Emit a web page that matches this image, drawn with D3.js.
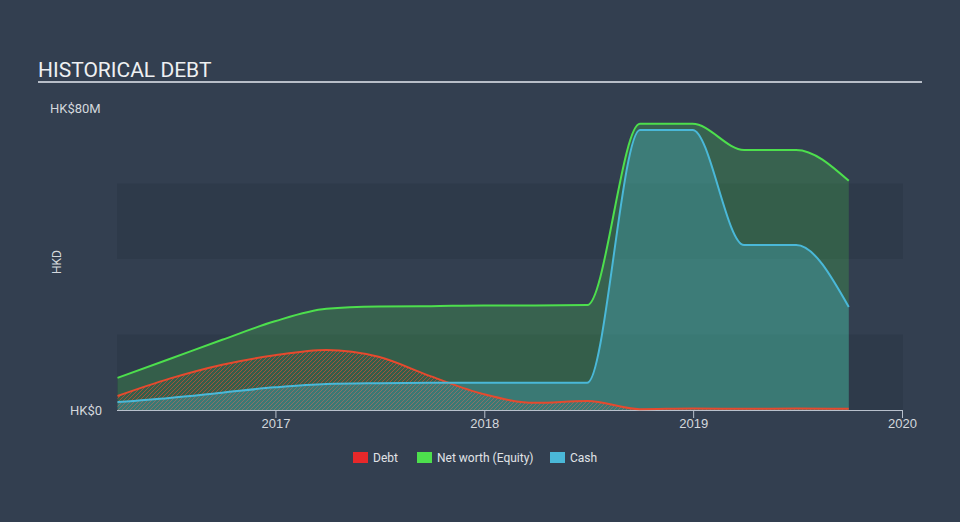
<!DOCTYPE html>
<html><head><meta charset="utf-8">
<script src="https://cdn.jsdelivr.net/npm/d3@7"></script>
<style>
html,body{margin:0;padding:0;background:#333f50;}
svg{display:block;font-family:Roboto, "Open Sans", sans-serif;}
</style></head>
<body>
<svg id="chart" width="960" height="522"></svg>
<script>
const dates = ["2016-03-31","2016-06-30","2016-09-30","2016-12-31","2017-03-31","2017-06-30","2017-09-30","2017-12-31","2018-03-31","2018-06-30","2018-09-30","2018-12-31","2019-03-31","2019-06-30","2019-09-30"];
const debt     = [3.7, 8.3, 12.0, 14.5, 15.9, 14.1, 8.9, 4.2, 1.9, 2.4, 0.2, 0.4, 0.3, 0.4, 0.3];
const netWorth = [8.5, 13.5, 18.6, 23.5, 26.8, 27.4, 27.5, 27.7, 27.7, 27.8, 75.8, 75.8, 68.9, 68.9, 60.7];
const cash     = [2.1, 3.2, 4.6, 6.0, 6.9, 7.1, 7.2, 7.2, 7.2, 7.2, 74.2, 74.2, 43.7, 43.7, 27.3];
const yTickLabels = ["HK$0", "HK$80M"];
const xTickYears = [2017, 2018, 2019, 2020];
const legendItems = ["Debt", "Net worth (Equity)", "Cash"];
const colors = {debt:"#e64a2e", net:"#4ddf4d", cash:"#4ab8d8"};
const legendColors = ["#e8282a", "#4ddf4d", "#4ab8d8"];

const svg = d3.select("#chart");
const parse = d3.timeParse("%Y-%m-%d");
const data = dates.map((d,i)=>({date:parse(d), debt:debt[i], net:netWorth[i], cash:cash[i]}));

const x = d3.scaleTime().domain([new Date(2016,0,1), new Date(2020,0,1)]).range([66, 902]);
const y = d3.scaleLinear().domain([0, 80]).range([410, 108]);
const plotLeft = 117, plotRight = 903;

// bands
[[0,20],[40,60]].forEach(b=>{
  svg.append("rect").attr("x", plotLeft).attr("width", plotRight-plotLeft)
    .attr("y", y(b[1])).attr("height", y(b[0])-y(b[1])).attr("fill", "#2e3a4a");
});

// title
svg.append("text").attr("x", 38).attr("y", 77).attr("fill", "#eef0f2")
  .attr("font-size", 21).text("HISTORICAL DEBT");
svg.append("line").attr("x1", 38).attr("x2", 922).attr("y1", 82).attr("y2", 82)
  .attr("stroke", "#b8bec8").attr("stroke-width", 2);

// hatch pattern
const defs = svg.append("defs");
const pat = defs.append("pattern").attr("id","hatch").attr("patternUnits","userSpaceOnUse")
  .attr("width",4).attr("height",4);
pat.append("path").attr("d","M-1,1 l2,-2 M0,4 l4,-4 M3,5 l2,-2")
  .attr("stroke", colors.debt).attr("stroke-width", 1).attr("opacity", 0.6);

const curve = d3.curveMonotoneX;
const area = key => d3.area().x(d=>x(d.date)).y0(y(0)).y1(d=>y(d[key])).curve(curve);
const line = key => d3.line().x(d=>x(d.date)).y(d=>y(d[key])).curve(curve);

svg.append("path").datum(data).attr("d", area("net")).attr("fill", colors.net).attr("fill-opacity", 0.22);
svg.append("path").datum(data).attr("d", area("debt")).attr("fill", "url(#hatch)");
svg.append("path").datum(data).attr("d", area("cash")).attr("fill", colors.cash).attr("fill-opacity", 0.3);

// axis
const xAxis = d3.axisBottom(x).tickValues(xTickYears.map(yr=>new Date(yr,0,1)))
  .tickFormat(d3.timeFormat("%Y")).tickSizeOuter(0).tickSizeInner(8);
const gx = svg.append("g").attr("transform", `translate(0,${y(0)})`).call(xAxis);
gx.select(".domain").attr("stroke", "#b8c0cc").attr("d", `M${plotLeft},0.5H${plotRight}`);
gx.selectAll(".tick line").attr("stroke", "#b8c0cc");
gx.selectAll(".tick text").attr("fill", "#d4d8dd").attr("font-size", 13).attr("y", 9).attr("dy", "0.71em");

svg.append("path").datum(data).attr("d", line("debt")).attr("fill","none").attr("stroke", colors.debt).attr("stroke-width", 2);
svg.append("path").datum(data).attr("d", line("cash")).attr("fill","none").attr("stroke", colors.cash).attr("stroke-width", 2);
svg.append("path").datum(data).attr("d", line("net")).attr("fill","none").attr("stroke", colors.net).attr("stroke-width", 2);

// y labels
svg.append("text").attr("x", 50).attr("y", y(80)+4.5).attr("fill", "#d4d8dd").attr("font-size", 13).text(yTickLabels[1]);
svg.append("text").attr("x", 102).attr("y", y(0)+4.5).attr("text-anchor","end").attr("fill", "#d4d8dd").attr("font-size", 13).text(yTickLabels[0]);
svg.append("text").attr("transform", "translate(61,262) rotate(-90)").attr("text-anchor","middle")
  .attr("fill", "#d4d8dd").attr("font-size", 12).text("HKD");

// legend
const legX = [353, 417, 550];
legendItems.forEach((t,i)=>{
  svg.append("rect").attr("x", legX[i]).attr("y", 452).attr("width", 15).attr("height", 11).attr("fill", legendColors[i]);
  svg.append("text").attr("x", legX[i]+20).attr("y", 461.5).attr("fill", "#e0e3e7").attr("font-size", 12).text(t);
});
</script>
</body></html>
